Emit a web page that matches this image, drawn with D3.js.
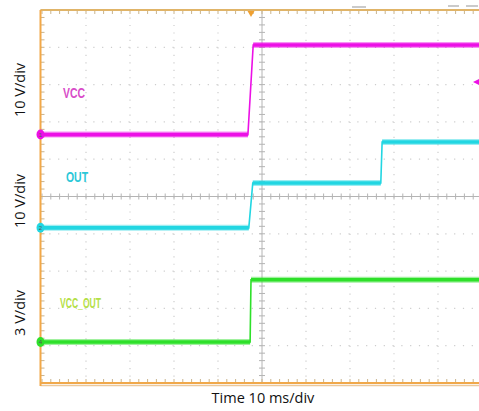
<!DOCTYPE html>
<html>
<head>
<meta charset="utf-8">
<script src="https://cdn.jsdelivr.net/npm/d3@7"></script>
<style>
  body { margin: 0; background: #fff; }
  svg { display: block; }
</style>
</head>
<body>
<script>
// Channel setup (scope settings)
const channelNames = ['VCC', 'OUT', 'VCC_OUT'];
const channelIds = ['1', '2', '4'];
const voltsPerDiv = [10, 10, 3];
const groundDiv = [1.66, -0.84, -3.9];   // ground marker position in divisions from centre
const traceColors = ['#ec10e6', '#22d6e2', '#2ee02a'];
const labelColors = ['#d84cc8', '#2ac8d8', '#b4e046'];
const axisLabels = ['10 V/div', '10 V/div', '3 V/div'];

// Waveforms: time in ms, value in volts
const vccTime = [0, 46.8, 48.0, 100];
const vccVolts = [0, 0, 24, 24];
const outTime = [0, 47.0, 47.9, 77.0, 77.3, 100];
const outVolts = [0, 0, 12, 12, 23, 23];
const vccOutTime = [0, 47.3, 47.5, 100];
const vccOutVolts = [0, 0, 5, 5];

const series = [
  vccTime.map((t, i) => ({ t, v: vccVolts[i] })),
  outTime.map((t, i) => ({ t, v: outVolts[i] })),
  vccOutTime.map((t, i) => ({ t, v: vccOutVolts[i] }))
];

const width = 479;
const height = 411;

const svg = d3.select('body').append('svg')
  .attr('width', width)
  .attr('height', height);

// 10 ms/div, 10 divisions across; 10 divisions down
const x = d3.scaleLinear().domain([0, 100]).range([42, 482]);
const yDiv = d3.scaleLinear().domain([-5, 5]).range([383, 10]);
const minorX = (x(10) - x(0)) / 5;
const minorY = (yDiv(-4) - yDiv(-3)) / 5;

const plotTop = yDiv(5), plotBottom = yDiv(-5), plotLeft = 40.5;

// Dotted grid
const grid = svg.append('g');
grid.selectAll('.vgrid')
  .data(d3.range(10, 100, 10).filter(d => d !== 50))
  .enter().append('line')
  .attr('x1', d => x(d)).attr('x2', d => x(d))
  .attr('y1', plotTop).attr('y2', plotBottom)
  .attr('stroke', '#cdcdcd').attr('stroke-width', 1.2)
  .attr('stroke-dasharray', `1.2 ${minorY - 1.2}`);

grid.selectAll('.hgrid')
  .data(d3.range(-4, 5).filter(d => d !== 0))
  .enter().append('line')
  .attr('x1', plotLeft).attr('x2', width)
  .attr('y1', d => yDiv(d)).attr('y2', d => yDiv(d))
  .attr('stroke', '#cdcdcd').attr('stroke-width', 1.2)
  .attr('stroke-dasharray', `1.2 ${minorX - 1.2}`);

// Centre cross with ticks
grid.append('line')
  .attr('x1', plotLeft).attr('x2', width)
  .attr('y1', yDiv(0)).attr('y2', yDiv(0))
  .attr('stroke', '#b4b4b4');
grid.append('line')
  .attr('x1', x(50)).attr('x2', x(50))
  .attr('y1', plotTop).attr('y2', plotBottom)
  .attr('stroke', '#b4b4b4');

const xMinor = d3.range(0, 51).map(i => x(0) + i * minorX).filter(v => v < width);
const yMinor = d3.range(0, 51).map(i => yDiv(5) + i * minorY);

grid.selectAll('.ctx')
  .data(xMinor).enter().append('line')
  .attr('x1', d => d).attr('x2', d => d)
  .attr('y1', yDiv(0) - 3).attr('y2', yDiv(0) + 3)
  .attr('stroke', '#b4b4b4');
grid.selectAll('.cty')
  .data(yMinor).enter().append('line')
  .attr('x1', x(50) - 3).attr('x2', x(50) + 3)
  .attr('y1', d => d).attr('y2', d => d)
  .attr('stroke', '#b4b4b4');

// Frame
const frame = svg.append('g');
frame.selectAll('.tt')
  .data(xMinor).enter().append('line')
  .attr('x1', d => d).attr('x2', d => d)
  .attr('y1', plotTop).attr('y2', plotTop + 4)
  .attr('stroke', '#c9b48e');
frame.selectAll('.bt')
  .data(xMinor).enter().append('line')
  .attr('x1', d => d).attr('x2', d => d)
  .attr('y1', plotBottom - 4).attr('y2', plotBottom)
  .attr('stroke', '#c9b48e');
frame.selectAll('.lt')
  .data(yMinor).enter().append('line')
  .attr('x1', plotLeft).attr('x2', plotLeft + 4)
  .attr('y1', d => d).attr('y2', d => d)
  .attr('stroke', '#c9b48e');

frame.append('line')
  .attr('x1', plotLeft).attr('x2', width)
  .attr('y1', plotTop).attr('y2', plotTop)
  .attr('stroke', '#e0b468').attr('stroke-width', 2);
frame.append('line')
  .attr('x1', plotLeft).attr('x2', width)
  .attr('y1', plotBottom).attr('y2', plotBottom)
  .attr('stroke', '#f0a84a').attr('stroke-width', 2);
frame.append('line')
  .attr('x1', plotLeft).attr('x2', width)
  .attr('y1', plotBottom + 2.5).attr('y2', plotBottom + 2.5)
  .attr('stroke', '#ecc89a').attr('stroke-width', 1.5);
frame.append('line')
  .attr('x1', plotLeft).attr('x2', plotLeft)
  .attr('y1', plotTop).attr('y2', plotBottom + 3)
  .attr('stroke', '#f2a848').attr('stroke-width', 2);

// Trigger marker
frame.append('path')
  .attr('d', `M${x(47.5) - 3.5},${plotTop + 1} L${x(47.5) + 3.5},${plotTop + 1} L${x(47.5)},${plotTop + 7} Z`)
  .attr('fill', '#f0a030');

// Little grey readout bars above the frame
[[352, 366, 7], [448, 459, 6], [466, 478, 6]].forEach(b => {
  svg.append('line')
    .attr('x1', b[0]).attr('x2', b[1]).attr('y1', b[2]).attr('y2', b[2])
    .attr('stroke', '#b8b8b8').attr('stroke-width', 1.5);
});

// Traces
series.forEach((data, c) => {
  const yv = v => yDiv(groundDiv[c] + v / voltsPerDiv[c]);
  const line = d3.line().x(d => x(d.t)).y(d => yv(d.v));
  const g = svg.append('g');

  g.append('path')
    .datum(data)
    .attr('d', line)
    .attr('fill', 'none')
    .attr('stroke', traceColors[c])
    .attr('stroke-width', 1.6);

  // flat stretches look like a wide noisy band
  const flats = [];
  for (let i = 0; i < data.length - 1; i++) {
    if (data[i].v === data[i + 1].v) flats.push([data[i], data[i + 1]]);
  }
  g.selectAll('.band')
    .data(flats).enter().append('path')
    .attr('d', line)
    .attr('fill', 'none')
    .attr('stroke', traceColors[c])
    .attr('stroke-opacity', 0.45)
    .attr('stroke-width', 6);
  g.selectAll('.core')
    .data(flats).enter().append('path')
    .attr('d', line)
    .attr('fill', 'none')
    .attr('stroke', traceColors[c])
    .attr('stroke-width', 3.6);

  // ground marker on the left edge
  const gy = yv(0);
  svg.append('ellipse')
    .attr('cx', plotLeft).attr('cy', gy)
    .attr('rx', 4).attr('ry', 5)
    .attr('fill', traceColors[c]);
  svg.append('text')
    .attr('x', plotLeft).attr('y', gy + 2)
    .attr('text-anchor', 'middle')
    .attr('font-family', 'Liberation Sans, Arial, sans-serif')
    .attr('font-size', 6)
    .attr('fill', '#555')
    .text(channelIds[c]);
});

// small VCC offset marker on right edge
svg.append('path')
  .attr('d', 'M473,82 L479,79 L479,85 Z')
  .attr('fill', traceColors[0]);

// Channel labels inside the plot (condensed scope font)
const labelPos = [[63, 98], [66, 182], [60, 308]];
const labelWidth = [22, 22, 41];
channelNames.forEach((name, i) => {
  svg.append('text')
    .attr('x', labelPos[i][0]).attr('y', labelPos[i][1])
    .attr('font-family', 'Liberation Sans, Arial, sans-serif')
    .attr('font-size', 15.5)
    .attr('font-weight', 'bold')
    .attr('textLength', labelWidth[i])
    .attr('lengthAdjust', 'spacingAndGlyphs')
    .attr('fill', labelColors[i])
    .text(name);
});

// Axis titles
const axisLabelY = [90, 201, 313];
axisLabels.forEach((t, i) => {
  svg.append('text')
    .attr('transform', `translate(25,${axisLabelY[i]}) rotate(-90)`)
    .attr('text-anchor', 'middle')
    .attr('font-family', 'Open Sans, Liberation Sans, sans-serif')
    .attr('font-size', 14.5)
    .attr('fill', '#111')
    .text(t);
});

svg.append('text')
  .attr('x', 263).attr('y', 403)
  .attr('text-anchor', 'middle')
  .attr('font-family', 'Open Sans, Liberation Sans, sans-serif')
  .attr('font-size', 14.5)
  .attr('fill', '#111')
  .text('Time 10 ms/div');
</script>
</body>
</html>
